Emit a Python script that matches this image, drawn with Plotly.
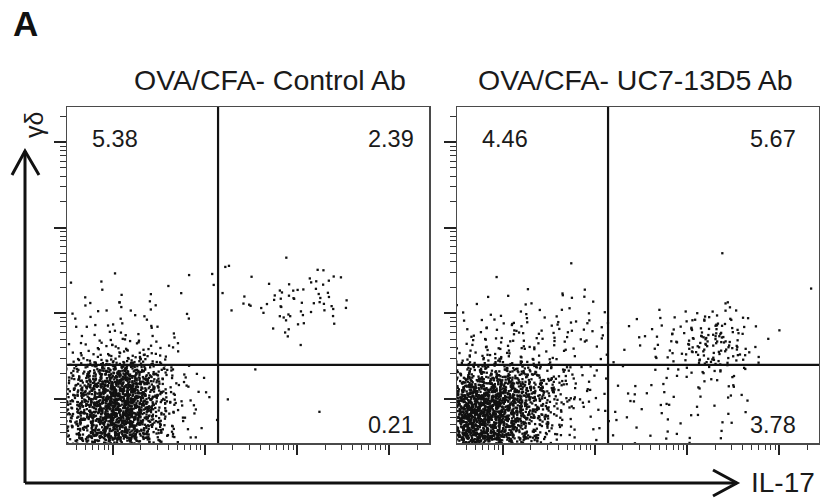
import plotly.graph_objects as go
import math

# ---------------- data (decade units of fluorescence, log10) ----------------
PANEL_TITLES = ["OVA/CFA- Control Ab", "OVA/CFA- UC7-13D5 Ab"]
QUAD_PCT_1 = {"UL": "5.38", "UR": "2.39", "LR": "0.21"}
QUAD_PCT_2 = {"UL": "4.46", "UR": "5.67", "LR": "3.78"}
X_GATE = 2.14          # IL-17 quadrant gate (log10)
Y_GATE = 1.398         # gamma-delta quadrant gate (log10)
X_RANGE = [0.5, 4.43]
Y_RANGE = [0.485, 4.41]
MAJOR_DECADES = [1, 2, 3, 4]

# density bins (event counts per bin)
X_EDGES = [0.5, 0.7, 0.9, 1.1, 1.3, 1.5, 1.7, 1.9, 2.14, 2.4, 2.6, 2.8,
           3.0, 3.2, 3.4, 3.6, 3.8, 4.0, 4.2, 4.43]
Y_EDGES = [0.485, 0.6, 0.8, 1.0, 1.2, 1.4, 1.6, 1.8, 2.0, 2.2, 2.4, 2.6, 2.8]

# rows bottom (r0) -> top (r11); columns left (c0) -> right (c18)
COUNTS_1 = [
    [22, 38, 50, 46, 22, 6, 2, 0, 0, 0, 0, 0, 0, 0, 0, 0, 0, 0, 0],
    [40, 75, 115, 115, 48, 12, 3, 2, 0, 0, 0, 0, 0, 1, 0, 0, 0, 0, 0],
    [45, 85, 135, 140, 58, 14, 4, 2, 0, 0, 0, 0, 0, 0, 0, 0, 0, 0, 0],
    [40, 75, 125, 130, 58, 15, 5, 2, 1, 0, 0, 0, 0, 0, 0, 0, 0, 0, 0],
    [28, 52, 80, 85, 42, 12, 3, 1, 0, 0, 0, 0, 0, 0, 0, 0, 0, 0, 0],
    [6, 9, 15, 16, 12, 6, 1, 0, 0, 1, 0, 0, 0, 0, 0, 0, 0, 0, 0],
    [3, 4, 6, 5, 4, 2, 1, 0, 0, 0, 0, 3, 0, 0, 0, 0, 0, 0, 0],
    [3, 3, 3, 4, 3, 1, 1, 0, 1, 0, 1, 5, 2, 1, 0, 0, 0, 0, 0],
    [2, 3, 2, 2, 2, 2, 1, 0, 0, 5, 5, 6, 6, 6, 2, 0, 0, 0, 0],
    [1, 2, 1, 1, 1, 1, 0, 1, 1, 1, 2, 3, 4, 5, 2, 0, 0, 0, 0],
    [0, 0, 0, 0, 0, 0, 1, 1, 2, 0, 0, 1, 2, 1, 1, 0, 0, 0, 0],
    [0, 0, 0, 0, 0, 0, 0, 0, 0, 0, 0, 0, 0, 0, 0, 0, 0, 0, 0],
]
COUNTS_2 = [
    [80, 72, 50, 30, 12, 5, 2, 1, 1, 1, 1, 2, 1, 1, 0, 0, 0, 0, 0],
    [150, 140, 100, 62, 25, 10, 3, 3, 2, 2, 1, 2, 1, 2, 1, 0, 0, 0, 0],
    [150, 145, 120, 80, 38, 15, 5, 4, 2, 2, 3, 1, 2, 2, 1, 1, 0, 0, 0],
    [100, 105, 95, 70, 42, 18, 7, 4, 2, 2, 3, 2, 2, 3, 3, 1, 0, 0, 0],
    [35, 42, 40, 35, 25, 14, 5, 3, 1, 1, 2, 2, 4, 5, 5, 2, 0, 0, 0],
    [8, 10, 10, 9, 7, 4, 2, 1, 1, 2, 3, 4, 13, 17, 9, 4, 0, 0, 0],
    [5, 7, 7, 6, 6, 5, 5, 4, 1, 3, 4, 6, 17, 20, 11, 3, 0, 0, 0],
    [2, 4, 5, 4, 4, 5, 5, 5, 0, 2, 3, 4, 7, 9, 6, 3, 1, 0, 0],
    [1, 2, 1, 2, 1, 2, 2, 0, 0, 0, 0, 0, 1, 2, 2, 0, 0, 0, 0],
    [0, 0, 1, 1, 0, 0, 2, 1, 0, 0, 0, 0, 0, 0, 0, 0, 0, 0, 1],
    [0, 0, 0, 0, 0, 0, 1, 0, 0, 0, 0, 0, 0, 0, 0, 0, 0, 0, 0],
    [0, 0, 0, 0, 0, 0, 0, 0, 0, 0, 0, 0, 0, 1, 0, 0, 0, 0, 0],
]

FONT = "Liberation Sans, Arial, sans-serif"


def _radical_inverse(k, base):
    f, r = 1.0, 0.0
    while k > 0:
        f /= base
        r += f * (k % base)
        k //= base
    return r


def events_from_bins(counts, phase):
    """Lay out each bin's events (tent shaped around the bin centre, Halton order)."""
    xs, ys = [], []
    k = phase
    for r, row in enumerate(counts):
        y0, y1 = Y_EDGES[r], Y_EDGES[r + 1]
        yc, h = (y0 + y1) / 2, y1 - y0
        for c, n in enumerate(row):
            x0, x1 = X_EDGES[c], X_EDGES[c + 1]
            xc, w = (x0 + x1) / 2, x1 - x0
            for _ in range(n):
                k += 1
                q = [_radical_inverse(k, b) for b in (2, 3, 5, 7)]
                xs.append(xc + (q[0] + q[2] - 1.0) * w)
                ys.append(yc + (q[1] + q[3] - 1.0) * h)
    return xs, ys


def minor_vals(lo, hi):
    vals = []
    for d in range(0, 5):
        for m in range(2, 10):
            v = d + math.log10(m)
            if lo <= v <= hi:
                vals.append(v)
    return vals


fig = go.Figure()
panels = [(COUNTS_1, QUAD_PCT_1, "x", "y"), (COUNTS_2, QUAD_PCT_2, "x2", "y2")]
for i, (counts, pct, xa, ya) in enumerate(panels):
    xs, ys = events_from_bins(counts, 11 + i * 4001)
    fig.add_trace(go.Scatter(
        x=xs, y=ys, mode="markers", xaxis=xa, yaxis=ya, showlegend=False,
        marker=dict(size=2.3, symbol="square", color="#111111", line=dict(width=0)),
        hoverinfo="skip"))

XDOMS = [[67 / 820, 429 / 820], [457 / 820, 819 / 820]]
YDOM = [(502 - 443) / 502, (502 - 107) / 502]

axis_common = dict(
    showgrid=False, zeroline=False, showline=True, mirror=True,
    linecolor="#4a4a4a", linewidth=1.5, showticklabels=False,
    ticks="outside", tickcolor="#222", fixedrange=True)

for i, suffix in enumerate(["", "2"]):
    fig.update_layout(**{
        "xaxis" + suffix: dict(
            axis_common, domain=XDOMS[i], range=X_RANGE, anchor="y" + suffix,
            tickmode="array", tickvals=MAJOR_DECADES, ticklen=10, tickwidth=2.2,
            minor=dict(tickmode="array", tickvals=minor_vals(*X_RANGE),
                       ticks="outside", ticklen=5, tickwidth=1, tickcolor="#333")),
        "yaxis" + suffix: dict(
            axis_common, domain=YDOM, range=Y_RANGE, anchor="x" + suffix,
            tickmode="array", tickvals=MAJOR_DECADES, ticklen=12, tickwidth=2.2,
            minor=dict(tickmode="array", tickvals=minor_vals(*Y_RANGE),
                       ticks="outside", ticklen=6, tickwidth=1, tickcolor="#333")),
    })

shapes = []
annotations = []
for i, (counts, pct, xa, ya) in enumerate(panels):
    shapes.append(dict(type="line", xref=xa, yref=ya, x0=X_GATE, x1=X_GATE,
                       y0=Y_RANGE[0], y1=Y_RANGE[1], line=dict(color="#111", width=2.2)))
    shapes.append(dict(type="line", xref=xa, yref=ya, x0=X_RANGE[0], x1=X_RANGE[1],
                       y0=Y_GATE, y1=Y_GATE, line=dict(color="#111", width=2.2)))
    num_font = dict(family=FONT, size=23.5, color="#1a1a1a")
    annotations.append(dict(xref=xa, yref=ya, x=1.025, y=4.04, text=pct["UL"],
                            showarrow=False, xanchor="center", yanchor="middle", font=num_font))
    annotations.append(dict(xref=xa, yref=ya, x=4.286 if i == 0 else 4.207, y=4.04,
                            text=pct["UR"], showarrow=False, xanchor="right",
                            yanchor="middle", font=num_font))
    annotations.append(dict(xref=xa, yref=ya, x=4.286 if i == 0 else 4.207, y=0.70,
                            text=pct["LR"], showarrow=False, xanchor="right",
                            yanchor="middle", font=num_font))

title_font = dict(family=FONT, size=28.5, color="#1a1a1a")
annotations.append(dict(xref="paper", yref="paper", x=270 / 820, y=(502 - 80) / 502,
                        text=PANEL_TITLES[0], showarrow=False, xanchor="center",
                        yanchor="middle", font=title_font))
annotations.append(dict(xref="paper", yref="paper", x=635 / 820, y=(502 - 80) / 502,
                        text=PANEL_TITLES[1], showarrow=False, xanchor="center",
                        yanchor="middle", font=title_font))
annotations.append(dict(xref="paper", yref="paper", x=11 / 820, y=(502 - 24) / 502,
                        text="<b>A</b>", showarrow=False, xanchor="left",
                        yanchor="middle", font=dict(family=FONT, size=35, color="#111")))
annotations.append(dict(xref="paper", yref="paper", x=749 / 820, y=(502 - 482) / 502,
                        text="IL-17", showarrow=False, xanchor="left",
                        yanchor="middle", font=dict(family=FONT, size=28, color="#1a1a1a")))
annotations.append(dict(xref="paper", yref="paper", x=34 / 820, y=(502 - 125) / 502,
                        text="γδ", showarrow=False, textangle=-90, xanchor="center",
                        yanchor="middle", font=dict(family=FONT, size=25, color="#1a1a1a")))


def P(px, py):
    return px / 820, (502 - py) / 502


# outer axis arrows (paper coordinates)
ax_line = dict(color="#111", width=3)
x0, y0 = P(25, 483)
x1, y1 = P(25, 151)
shapes.append(dict(type="line", xref="paper", yref="paper", x0=x0, y0=y0, x1=x1, y1=y1, line=ax_line))
x2, y2 = P(737, 483)
shapes.append(dict(type="line", xref="paper", yref="paper", x0=x0, y0=y0, x1=x2, y1=y2, line=ax_line))
a, b = P(12, 175)
c_, d = P(39, 175)
shapes.append(dict(type="path", xref="paper", yref="paper",
                   path=f"M {a},{b} L {x1},{y1} L {c_},{d}", line=ax_line))
a, b = P(713, 470)
c_, d = P(713, 496)
shapes.append(dict(type="path", xref="paper", yref="paper",
                   path=f"M {a},{b} L {x2},{y2} L {c_},{d}", line=ax_line))

fig.update_layout(
    width=820, height=502, margin=dict(l=0, r=0, t=0, b=0),
    paper_bgcolor="white", plot_bgcolor="white",
    shapes=shapes, annotations=annotations, showlegend=False)

fig.write_html("out.html", config={"displayModeBar": False, "staticPlot": True},
               post_script="document.body.style.margin='0';document.body.style.overflow='hidden';")
